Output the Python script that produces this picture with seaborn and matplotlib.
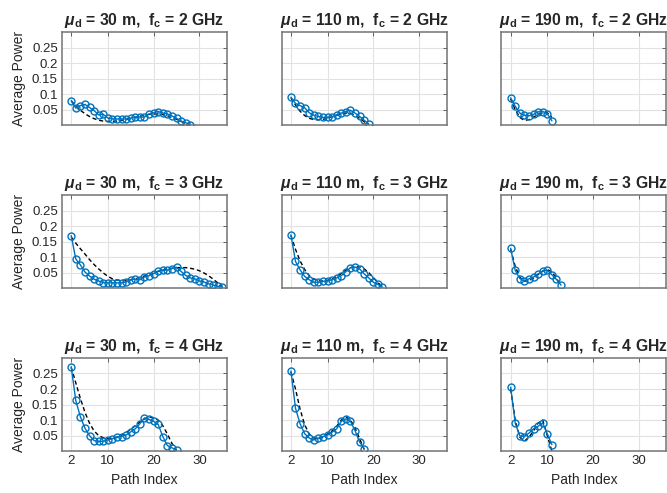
import numpy as np
import pandas as pd
import seaborn as sns
import matplotlib.pyplot as plt

# Werte
dist = [30, 110, 190]
freq = [2, 3, 4]

# mu_d = 30 m
p_30_2 = [0.079, 0.055, 0.063, 0.067, 0.057, 0.047, 0.033, 0.035, 0.023, 0.020, 0.020, 0.020, 0.020, 0.023,
          0.026, 0.026, 0.026, 0.036, 0.040, 0.044, 0.039, 0.036, 0.030, 0.022, 0.013, 0.008, 0.002]
f_30_2 = [0.079, 0.062, 0.048, 0.037, 0.028, 0.021, 0.016, 0.013, 0.012, 0.012, 0.013, 0.015, 0.018, 0.021,
          0.025, 0.029, 0.032, 0.035, 0.036, 0.036, 0.034, 0.030, 0.025, 0.019, 0.012, 0.006, 0.001]
p_30_3 = [0.169, 0.094, 0.075, 0.052, 0.039, 0.029, 0.023, 0.018, 0.017, 0.017, 0.017, 0.017, 0.020, 0.027,
          0.029, 0.027, 0.036, 0.040, 0.047, 0.055, 0.058, 0.058, 0.063, 0.067, 0.054, 0.041, 0.033, 0.030,
          0.023, 0.020, 0.014, 0.010, 0.006, 0.003]
f_30_3 = [0.165, 0.145, 0.127, 0.110, 0.092, 0.076, 0.062, 0.049, 0.038, 0.030, 0.026, 0.025, 0.025, 0.027,
          0.030, 0.034, 0.039, 0.044, 0.049, 0.054, 0.058, 0.062, 0.064, 0.066, 0.066, 0.066, 0.064, 0.061,
          0.056, 0.049, 0.040, 0.029, 0.017, 0.005]
p_30_4 = [0.272, 0.163, 0.111, 0.074, 0.050, 0.034, 0.031, 0.032, 0.036, 0.040, 0.045, 0.047, 0.052, 0.062,
          0.072, 0.088, 0.107, 0.102, 0.096, 0.086, 0.047, 0.018, 0.011, 0.002]
f_30_4 = [0.270, 0.220, 0.170, 0.125, 0.090, 0.065, 0.050, 0.043, 0.040, 0.041, 0.045, 0.052, 0.060, 0.070,
          0.082, 0.094, 0.104, 0.109, 0.108, 0.100, 0.082, 0.055, 0.025, 0.002]

# mu_d = 110 m
p_110_2 = [0.090, 0.070, 0.063, 0.056, 0.040, 0.032, 0.028, 0.025, 0.025, 0.027, 0.033, 0.039, 0.044, 0.048,
           0.039, 0.028, 0.016, 0.004]
f_110_2 = [0.088, 0.065, 0.045, 0.031, 0.022, 0.018, 0.017, 0.019, 0.022, 0.027, 0.032, 0.036, 0.039, 0.038,
           0.032, 0.022, 0.011, 0.001]
p_110_3 = [0.172, 0.086, 0.059, 0.038, 0.027, 0.019, 0.019, 0.022, 0.023, 0.027, 0.033, 0.040, 0.053, 0.066,
           0.068, 0.062, 0.046, 0.033, 0.019, 0.012, 0.003]
f_110_3 = [0.170, 0.125, 0.088, 0.060, 0.040, 0.029, 0.024, 0.023, 0.025, 0.030, 0.037, 0.047, 0.058, 0.066,
           0.070, 0.069, 0.062, 0.050, 0.034, 0.018, 0.003]
p_110_4 = [0.258, 0.138, 0.088, 0.056, 0.042, 0.036, 0.042, 0.047, 0.052, 0.061, 0.072, 0.096, 0.104, 0.096,
           0.066, 0.029, 0.008]
f_110_4 = [0.255, 0.200, 0.135, 0.085, 0.055, 0.042, 0.040, 0.045, 0.055, 0.065, 0.080, 0.100, 0.110, 0.100,
           0.075, 0.040, 0.005]

# mu_d = 190 m
p_190_2 = [0.088, 0.061, 0.039, 0.032, 0.030, 0.035, 0.043, 0.044, 0.037, 0.014]
f_190_2 = [0.085, 0.050, 0.025, 0.015, 0.018, 0.026, 0.035, 0.040, 0.040, 0.025]
p_190_3 = [0.128, 0.057, 0.031, 0.022, 0.030, 0.036, 0.046, 0.055, 0.057, 0.043, 0.028, 0.010]
f_190_3 = [0.125, 0.070, 0.035, 0.022, 0.024, 0.032, 0.044, 0.055, 0.060, 0.052, 0.032, 0.008]
p_190_4 = [0.206, 0.090, 0.049, 0.047, 0.058, 0.072, 0.080, 0.091, 0.056, 0.021]
f_190_4 = [0.200, 0.100, 0.045, 0.032, 0.045, 0.065, 0.090, 0.100, 0.050, 0.000]

power = {(30, 2): p_30_2, (30, 3): p_30_3, (30, 4): p_30_4,
         (110, 2): p_110_2, (110, 3): p_110_3, (110, 4): p_110_4,
         (190, 2): p_190_2, (190, 3): p_190_3, (190, 4): p_190_4}
fit = {(30, 2): f_30_2, (30, 3): f_30_3, (30, 4): f_30_4,
       (110, 2): f_110_2, (110, 3): f_110_3, (110, 4): f_110_4,
       (190, 2): f_190_2, (190, 3): f_190_3, (190, 4): f_190_4}

sns.set_theme(style="whitegrid")
plt.rcParams['font.family'] = ['Liberation Sans', 'DejaVu Sans']
plt.rcParams['mathtext.fontset'] = 'custom'
plt.rcParams['mathtext.rm'] = 'Liberation Sans'
plt.rcParams['mathtext.bf'] = 'Liberation Sans:bold'
plt.rcParams['mathtext.it'] = 'Liberation Sans:italic'
plt.rcParams['mathtext.bfit'] = 'Liberation Sans:italic:bold'

blue = '#0072BD'
fig, axes = plt.subplots(3, 3, figsize=(6.67, 4.93), dpi=100, sharex=True, sharey=True)
plt.subplots_adjust(left=0.093, right=0.999, top=0.935, bottom=0.085, wspace=0.333, hspace=0.75)

for i, fc in enumerate(freq):
    for j, d in enumerate(dist):
        ax = axes[i, j]
        y = power[(d, fc)]
        x = np.arange(2, 2 + len(y))
        sns.lineplot(x=x, y=fit[(d, fc)], ax=ax, color='black', linewidth=1.0, dashes=False)
        ax.lines[-1].set_dashes((3, 2))
        sns.lineplot(x=x, y=y, ax=ax, color=blue, linewidth=1.0, marker='o', markersize=5,
                     markerfacecolor='none', markeredgecolor=blue, markeredgewidth=1.0)
        ax.set_xlim(0, 36)
        ax.set_ylim(0, 0.3)
        ax.set_xticks([2, 10, 20, 30])
        ax.set_yticks([0.05, 0.1, 0.15, 0.2, 0.25])
        ax.set_yticklabels(['0.05', '0.1', '0.15', '0.2', '0.25'])
        ax.grid(True, color='#e2e2e2', linewidth=0.8)
        ax.tick_params(direction='in', length=3, width=0.6, color='0.3', labelsize=9.5,
                       labelcolor='#262626', pad=3, top=True, right=True)
        for s in ax.spines.values():
            s.set_color('0.45')
            s.set_linewidth(1.1)
        ax.set_title(r'$\boldsymbol{\mu}_\mathbf{d}$' + f' = {d} m,  ' + r'$\mathbf{f}_\mathbf{c}$' + f' = {fc} GHz',
                     fontsize=11.3, fontweight='bold', pad=5)
        if j == 0:
            ax.set_ylabel('Average Power', fontsize=10, color='#262626')
        else:
            ax.set_ylabel('')
        if i == 2:
            ax.set_xlabel('Path Index', fontsize=10, color='#262626')
        else:
            ax.set_xlabel('')

plt.savefig('out.png', dpi=100)
plt.close()
